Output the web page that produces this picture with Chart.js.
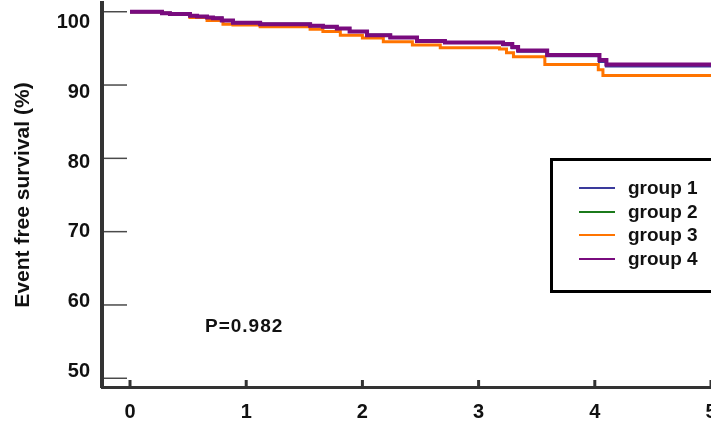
<!DOCTYPE html>
<html>
<head>
<meta charset="utf-8">
<script src="https://cdn.jsdelivr.net/npm/chart.js@4"></script>
<style>
  html, body { margin: 0; padding: 0; background: #fff; overflow: hidden; }
  #wrap { position: relative; width: 711px; height: 438px; overflow: hidden; }
  canvas { position: absolute; left: 0; top: 0; }
  #legend { position: absolute; left: 550px; top: 158px; width: 210px; height: 114px;
            border: 3px solid #000; padding-top: 15px; box-sizing: content-box;
            font: bold 19px "Liberation Sans", Arial, sans-serif; color: #111; }
  .row { height: 23.7px; display: flex; align-items: center; }
  .sw { width: 36px; height: 2px; margin-left: 26px; margin-right: 13px; }
  #pval { position: absolute; left: 205px; top: 316px; font: bold 19px "Liberation Sans", Arial, sans-serif;
          letter-spacing: 1px; color: #111; line-height: 20px; }
</style>
</head>
<body>
<div id="wrap">
  <canvas id="c" width="711" height="438"></canvas>
  <div id="legend"></div>
  <div id="pval"></div>
</div>
<script>
// ---- data ----
const groupNames = ['group 1', 'group 2', 'group 3', 'group 4'];
const groupColors = ['#3a3a9c', '#1b7a1b', '#ff7400', '#790b7e'];
const pValueText = 'P=0.982';
const xTickValues = [0, 1, 2, 3, 4, 5];
const yTickValues = [50, 60, 70, 80, 90, 100];

const times1 = [0, 0.275, 0.344, 0.516, 0.577, 0.663, 0.714, 0.79, 0.886, 1.12, 1.55, 1.66, 1.78, 1.89, 2.04, 2.24, 2.47, 2.71, 3.21, 3.29, 3.34, 3.59, 4.04, 4.10, 5.0];
const surv1  = [100, 99.8, 99.7, 99.45, 99.35, 99.2, 99.1, 98.8, 98.5, 98.3, 98.1, 97.95, 97.7, 97.3, 96.8, 96.5, 96.0, 95.8, 95.5, 95.1, 94.6, 94.0, 93.2, 92.6, 92.6];

const times2 = [0, 0.275, 0.344, 0.516, 0.577, 0.663, 0.714, 0.79, 0.886, 1.12, 1.55, 1.66, 1.78, 1.89, 2.04, 2.24, 2.47, 2.71, 3.21, 3.29, 3.34, 3.59, 4.04, 4.10, 5.0];
const surv2  = [100, 99.8, 99.7, 99.45, 99.35, 99.2, 99.1, 98.8, 98.5, 98.3, 98.1, 97.95, 97.7, 97.3, 96.8, 96.5, 96.0, 95.8, 95.6, 95.2, 94.7, 94.1, 93.4, 92.8, 92.8];

const times3 = [0, 0.275, 0.344, 0.516, 0.663, 0.80, 0.886, 1.12, 1.55, 1.66, 1.81, 2.0, 2.18, 2.43, 2.67, 3.18, 3.24, 3.30, 3.57, 4.03, 4.07, 5.0];
const surv3  = [100, 99.8, 99.7, 99.2, 98.8, 98.3, 98.2, 97.95, 97.6, 97.3, 96.8, 96.4, 95.9, 95.45, 95.1, 94.9, 94.4, 93.85, 92.8, 92.1, 91.3, 91.3];

const times4 = [0, 0.275, 0.344, 0.516, 0.577, 0.663, 0.714, 0.79, 0.886, 1.12, 1.55, 1.66, 1.78, 1.89, 2.04, 2.24, 2.47, 2.71, 3.21, 3.29, 3.34, 3.59, 4.04, 4.10, 5.0];
const surv4  = [100, 99.8, 99.7, 99.45, 99.35, 99.2, 99.1, 98.8, 98.5, 98.3, 98.1, 97.95, 97.7, 97.3, 96.8, 96.5, 96.0, 95.8, 95.6, 95.2, 94.7, 94.1, 93.4, 92.8, 92.8];

// ---- build ----
const toPts = (ts, vs) => ts.map((t, i) => ({ x: t, y: vs[i] }));
const series = [
  { t: times1, v: surv1, w: 3, order: 1 },
  { t: times2, v: surv2, w: 3, order: 3 },
  { t: times3, v: surv3, w: 3, order: 2 },
  { t: times4, v: surv4, w: 4, order: 0 }
];
const datasets = series.map((s, i) => ({
  label: groupNames[i],
  data: toPts(s.t, s.v),
  borderColor: groupColors[i],
  backgroundColor: groupColors[i],
  borderWidth: s.w,
  stepped: 'before',
  pointRadius: 0,
  fill: false,
  order: s.order,
  yAxisID: 'y'
}));

const FONT = '"Liberation Sans", Arial, sans-serif';

const innerTicks = {
  id: 'innerTicks',
  afterDatasetsDraw(chart) {
    const ctx = chart.ctx, a = chart.chartArea;
    const ys = chart.scales.y, xs = chart.scales.x;
    ctx.save();
    ctx.strokeStyle = '#4a4a4a';
    ctx.lineWidth = 1.5;
    ys.ticks.forEach(tk => {
      const py = ys.getPixelForValue(tk.value);
      ctx.beginPath(); ctx.moveTo(a.left + 2, py); ctx.lineTo(a.left + 25, py); ctx.stroke();
    });
    ctx.strokeStyle = '#333';
    ctx.lineWidth = 3;
    xs.ticks.forEach(tk => {
      const px = xs.getPixelForValue(tk.value);
      ctx.beginPath(); ctx.moveTo(px, a.bottom - 1); ctx.lineTo(px, a.bottom - 7); ctx.stroke();
    });
    ctx.restore();
  }
};

new Chart(document.getElementById('c'), {
  type: 'line',
  data: { datasets },
  options: {
    responsive: false,
    animation: false,
    devicePixelRatio: 1,
    layout: { padding: { top: 3, left: 0, right: 0, bottom: 0 } },
    plugins: { legend: { display: false }, tooltip: { enabled: false } },
    scales: {
      x: {
        type: 'linear',
        min: -0.241, max: 5.0,
        grid: { display: false, drawTicks: false },
        border: { display: true, color: '#333', width: 3 },
        ticks: { color: '#111', font: { family: FONT, size: 20, weight: 'bold' }, padding: 13, maxRotation: 0 },
        afterBuildTicks: s => { s.ticks = xTickValues.map(v => ({ value: v })); },
        afterFit: s => { s.height = 51; s.paddingLeft = 0; s.paddingRight = 0; }
      },
      y: {
        type: 'linear', position: 'left', weight: 0,
        min: 48.81, max: 101.19,
        grid: { display: false, drawTicks: false },
        border: { display: true, color: '#333', width: 4 },
        ticks: { display: false },
        afterBuildTicks: s => { s.ticks = yTickValues.map(v => ({ value: v })); },
        afterFit: s => { s.width = 0; s.paddingTop = 0; s.paddingBottom = 0; }
      },
      yl: {
        type: 'linear', position: 'left', weight: 1,
        min: 47.78, max: 102.79,
        grid: { display: false, drawTicks: false },
        border: { display: false },
        ticks: { color: '#111', font: { family: FONT, size: 20, weight: 'bold' }, padding: 12 },
        title: { display: true, text: 'Event free survival (%)', color: '#111',
                 font: { family: FONT, size: 21, weight: 'bold' }, padding: { top: 11, bottom: 0 } },
        afterBuildTicks: s => { s.ticks = yTickValues.map(v => ({ value: v })); },
        afterFit: s => { s.width = 102; s.paddingTop = 0; s.paddingBottom = 0; }
      }
    }
  },
  plugins: [innerTicks]
});

// legend (HTML) built from the series names/colours
const lg = document.getElementById('legend');
groupNames.forEach((n, i) => {
  const r = document.createElement('div'); r.className = 'row';
  const sw = document.createElement('span'); sw.className = 'sw'; sw.style.background = groupColors[i];
  const tx = document.createElement('span'); tx.textContent = n;
  r.appendChild(sw); r.appendChild(tx); lg.appendChild(r);
});
document.getElementById('pval').textContent = pValueText;
</script>
</body>
</html>
